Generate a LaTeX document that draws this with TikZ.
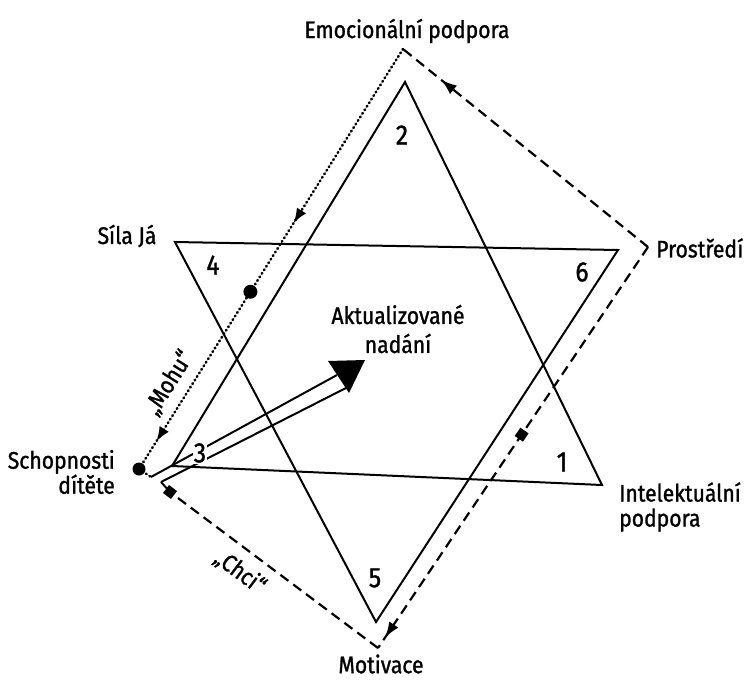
\documentclass[tikz,border=0pt]{standalone}
\usepackage{fontspec}
\setmainfont{Fira Sans}[FakeStretch=0.88, FakeBold=1.2]
\usetikzlibrary{arrows.meta,decorations.markings,calc}
\begin{document}
\begin{tikzpicture}[x=1pt,y=-1pt,
  tri/.style={line width=2pt, line join=miter},
  solidline/.style={line width=2pt},
  dashline/.style={line width=2.2pt, dash pattern=on 10pt off 6pt},
  dotline/.style={line width=2.6pt, dash pattern=on 0.8pt off 3.4pt, line cap=round},
  lbl/.style={font=\fontsize{24}{25}\selectfont, inner sep=0pt},
  num/.style={font=\fontsize{28}{30}\selectfont, inner sep=0pt},
  sqmark/.style={rectangle, fill=black, minimum size=10pt, inner sep=0pt},
  dashtip/.style={decoration={markings, mark=at position #1 with {\arrow{Latex[length=16pt,width=11pt]}}}, postaction={decorate}},
]
\useasboundingbox (0,0) rectangle (744,680);

% path corners
\coordinate (E) at (403,49);
\coordinate (P) at (648,247);
\coordinate (M) at (378,648);
\coordinate (Q) at (170,492);
\coordinate (Z) at (161,482);
\coordinate (S) at (139,469);
% shaft and head
\coordinate (U0) at (151,477);
\coordinate (U1) at (337,375);
\coordinate (L1) at (346,388);
\coordinate (H1) at (328,361);
\coordinate (H2) at (365,360);
\coordinate (H3) at (349,393);
% triangles
\coordinate (A2) at (405,82);
\coordinate (A3) at (172,466);
\coordinate (A1) at (602,485);
\coordinate (B4) at (175,242);
\coordinate (B6) at (618,250);
\coordinate (B5) at (376,622);

\draw[tri] (A2) -- (A3) -- (A1) -- cycle;
\draw[tri] (B4) -- (B6) -- (B5) -- cycle;

% double arrow
\draw[solidline] (U0) -- (U1);
\draw[solidline] (Z) -- (L1);
\fill (H1) -- (H2) -- (H3) -- cycle;

% dotted "Mohu" line
\draw[dotline, decoration={markings,
    mark=at position 0.415 with {\arrow{Latex[length=15pt,width=11pt]}},
    mark=at position 0.935 with {\arrow{Latex[length=15pt,width=11pt]}}},
    postaction={decorate}] (E) -- (S);
\draw[dotline] (S) -- (U0);
\fill (S) circle (6.5pt);
\fill ($(E)!0.578!(S)$) circle (7pt);

% dashed loop
\draw[dashline, dashtip=0.845] (P) -- (E);
\draw[dashline, dashtip=0.975] (P) -- (M) node[pos=0.468, sqmark, sloped] (sq1) {};
\draw[dashline] (M) -- (Q);
\node[sqmark, rotate=-37] (sq2) at (Q) {};
\draw[solidline] (sq2.center) -- (Z);

% numbers
\node[num] (n2) at (402,135) {2};
\node[num] (n4) at (213,265) {4};
\node[num] (n6) at (582,272) {6};
\node[num, fill=white, inner sep=1pt] (n3) at (200,453) {3};
\node[num] (n1) at (562,462) {1};
\node[num] (n5) at (375,578) {5};

% labels
\node[lbl] (emo) at (407,31) {Emocionální podpora};
\node[lbl] (sila) at (127,236) {Síla Já};
\node[lbl, anchor=west] (pros) at (656,248) {Prostředí};
\node[lbl, align=center, font=\fontsize{24}{29}\selectfont] (akt) at (398,329) {Aktualizované\\nadání};
\node[lbl, align=right, anchor=east] (schop) at (115,472) {Schopnosti\\dítěte};
\node[lbl, align=left, anchor=west] (intel) at (619,507) {Intelektuální\\podpora};
\node[lbl] (mot) at (381,664) {Motivace};
\node[lbl, rotate=57.8] (mohu) at (169,383) {„Mohu“};
\node[lbl, rotate=-37] (chci) at (240,572) {„Chci“};
\end{tikzpicture}
\end{document}
